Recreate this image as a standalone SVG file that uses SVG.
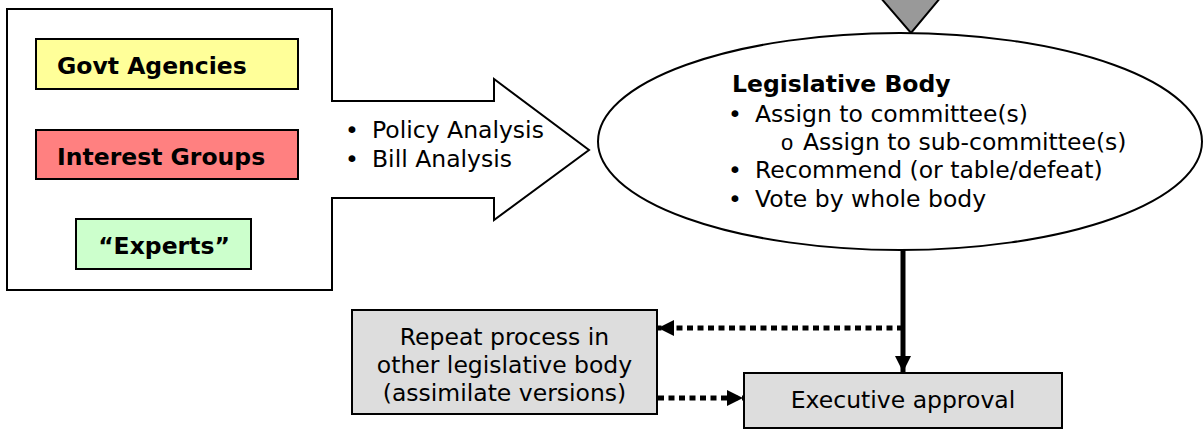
<svg xmlns="http://www.w3.org/2000/svg" width="1203" height="431" viewBox="0 0 1203 431">
<style>
text{font-family:"DejaVu Sans","Liberation Sans",sans-serif;font-size:23.5px;fill:#000}
.b{font-weight:bold}
.c{text-anchor:middle}
.box{stroke:#000;stroke-width:2}
.gray{fill:#dddddd;stroke:#000;stroke-width:2}
.dot{fill:none;stroke:#000;stroke-width:5;stroke-dasharray:6 4.5}
</style>
<defs>
<marker id="ah" viewBox="0 0 10 10" refX="10" refY="5" markerWidth="3.2" markerHeight="3.2" orient="auto" markerUnits="strokeWidth">
<path d="M0,0 L10,5 L0,10 z" fill="#000"/>
</marker>
</defs>
<rect width="1203" height="431" fill="#fff"/>
<g id="sources">
<polygon points="7,9 332,9 332,101 494,101 494,79 589,150 494,220 494,198 332,198 332,290 7,290" fill="#fff" stroke="#000" stroke-width="2"/>
<text x="352" y="138" class="c">•</text>
<text x="372" y="138">Policy Analysis</text>
<text x="352" y="167" class="c">•</text>
<text x="372" y="167">Bill Analysis</text>
</g>
<g id="govt-agencies">
<rect x="36" y="39" width="262" height="50" fill="#ffff99" class="box"/>
<text x="57" y="74" class="b">Govt Agencies</text>
</g>
<g id="interest-groups">
<rect x="36" y="130" width="262" height="49" fill="#ff8080" class="box"/>
<text x="57" y="165" class="b">Interest Groups</text>
</g>
<g id="experts">
<rect x="76" y="219" width="175" height="50" fill="#ccffcc" class="box"/>
<text x="164" y="254" class="b c">“Experts”</text>
</g>
<g id="input">
<polygon points="880,-3 941,-3 911,33" fill="#999999" stroke="#000" stroke-width="2"/>
</g>
<g id="legislative-body">
<ellipse cx="900" cy="141.5" rx="302" ry="108.5" fill="#fff" stroke="#000" stroke-width="2"/>
<text x="732" y="92" class="b">Legislative Body</text>
<text x="735" y="122" class="c">•</text>
<text x="755" y="122">Assign to committee(s)</text>
<text x="787" y="150" class="c" style="font-family:'Liberation Mono',monospace;font-size:22px">o</text>
<text x="803" y="150">Assign to sub-committee(s)</text>
<text x="735" y="178" class="c">•</text>
<text x="755" y="178">Recommend (or table/defeat)</text>
<text x="735" y="207" class="c">•</text>
<text x="755" y="207">Vote by whole body</text>
</g>
<g id="repeat-process">
<rect x="352" y="310" width="305" height="104" class="gray"/>
<text x="504.5" y="345" class="c">Repeat process in</text>
<text x="504.5" y="373" class="c">other legislative body</text>
<text x="504.5" y="401" class="c">(assimilate versions)</text>
</g>
<g id="executive-approval">
<rect x="744" y="373" width="318" height="55" class="gray"/>
<text x="903" y="408" class="c">Executive approval</text>
</g>
<g id="connectors">
<line x1="903" y1="250" x2="903" y2="372" stroke="#000" stroke-width="5" marker-end="url(#ah)"/>
<line x1="903" y1="328" x2="658" y2="328" class="dot" marker-end="url(#ah)"/>
<line x1="658" y1="398" x2="743" y2="398" class="dot" marker-end="url(#ah)"/>
</g>
</svg>
